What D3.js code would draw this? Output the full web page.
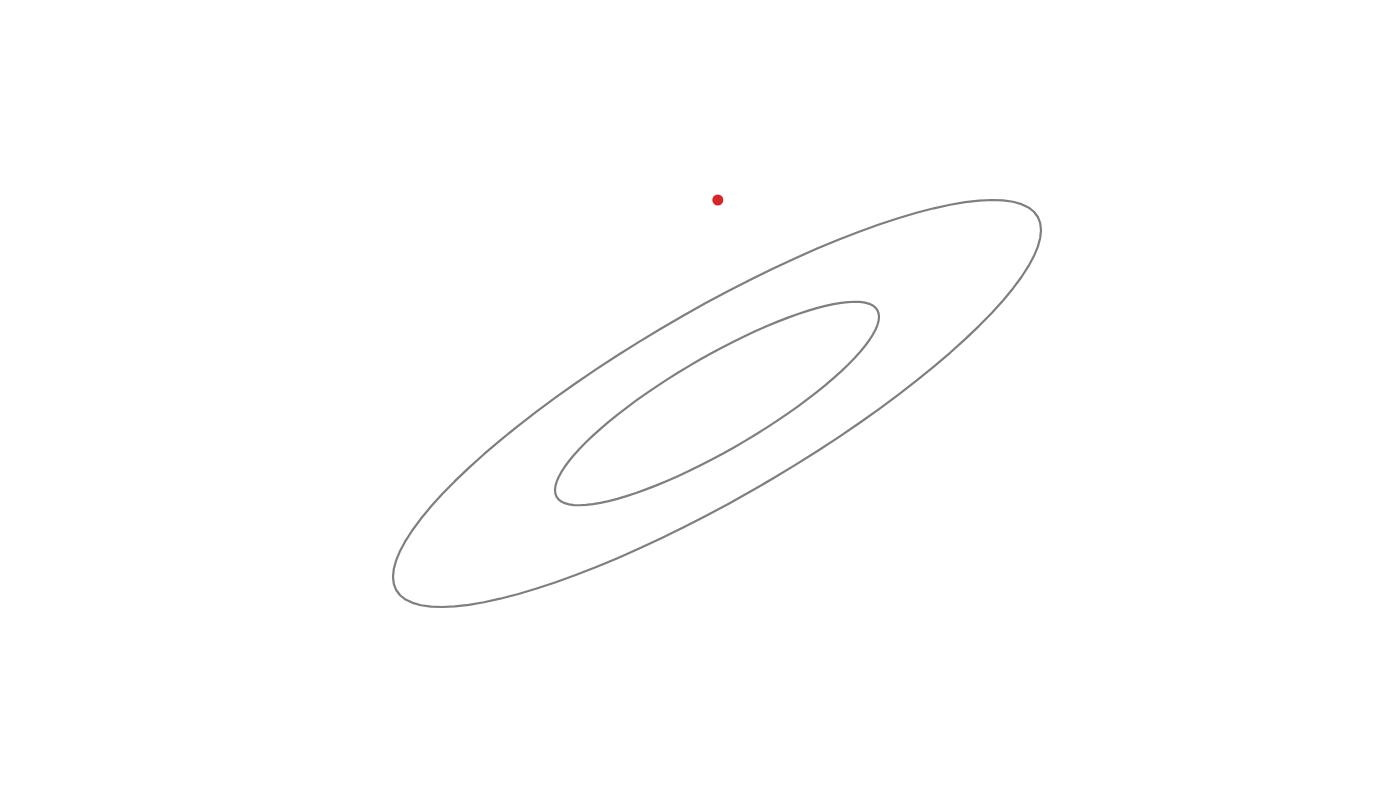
<!DOCTYPE html>
<html>
<head>
<meta charset="utf-8">
<script src="https://cdn.jsdelivr.net/npm/d3@7"></script>
<style>
  html, body { margin: 0; padding: 0; background: #ffffff; }
  svg { display: block; }
</style>
</head>
<body>
<svg id="chart" width="1400" height="800"></svg>
<script>
// Bivariate normal summary (standardized units)
const mean = [0, 0];
const sd = [1, 1];
const rho = [0.852];
const levels = [1, 2];          // Mahalanobis radii of drawn contours
const pointX = [0.005];
const pointY = [2.0];

const width = 1400, height = 800;
const svg = d3.select("#chart");

const x = d3.scaleLinear().domain([-2, 2]).range([393, 1041]);
const y = d3.scaleLinear().domain([-2, 2]).range([607, 200]);

const r = rho[0];
const angles = d3.range(0, 360, 4).map(d => d * Math.PI / 180);

function ellipsePoints(k) {
  return angles.map(t => [
    mean[0] + k * sd[0] * Math.cos(t),
    mean[1] + k * sd[1] * (r * Math.cos(t) + Math.sqrt(1 - r * r) * Math.sin(t))
  ]);
}

const line = d3.line().x(d => x(d[0])).y(d => y(d[1])).curve(d3.curveLinearClosed);

svg.selectAll("path.contour")
  .data(levels)
  .join("path")
  .attr("class", "contour")
  .attr("d", k => line(ellipsePoints(k)))
  .attr("fill", "none")
  .attr("stroke", "#7f7f7f")
  .attr("stroke-width", 2.2)
  .attr("stroke-linejoin", "round");

svg.selectAll("circle.pt")
  .data(pointX.map((v, i) => [v, pointY[i]]))
  .join("circle")
  .attr("class", "pt")
  .attr("cx", d => x(d[0]))
  .attr("cy", d => y(d[1]))
  .attr("r", 5.5)
  .attr("fill", "#d62728");
</script>
</body>
</html>
